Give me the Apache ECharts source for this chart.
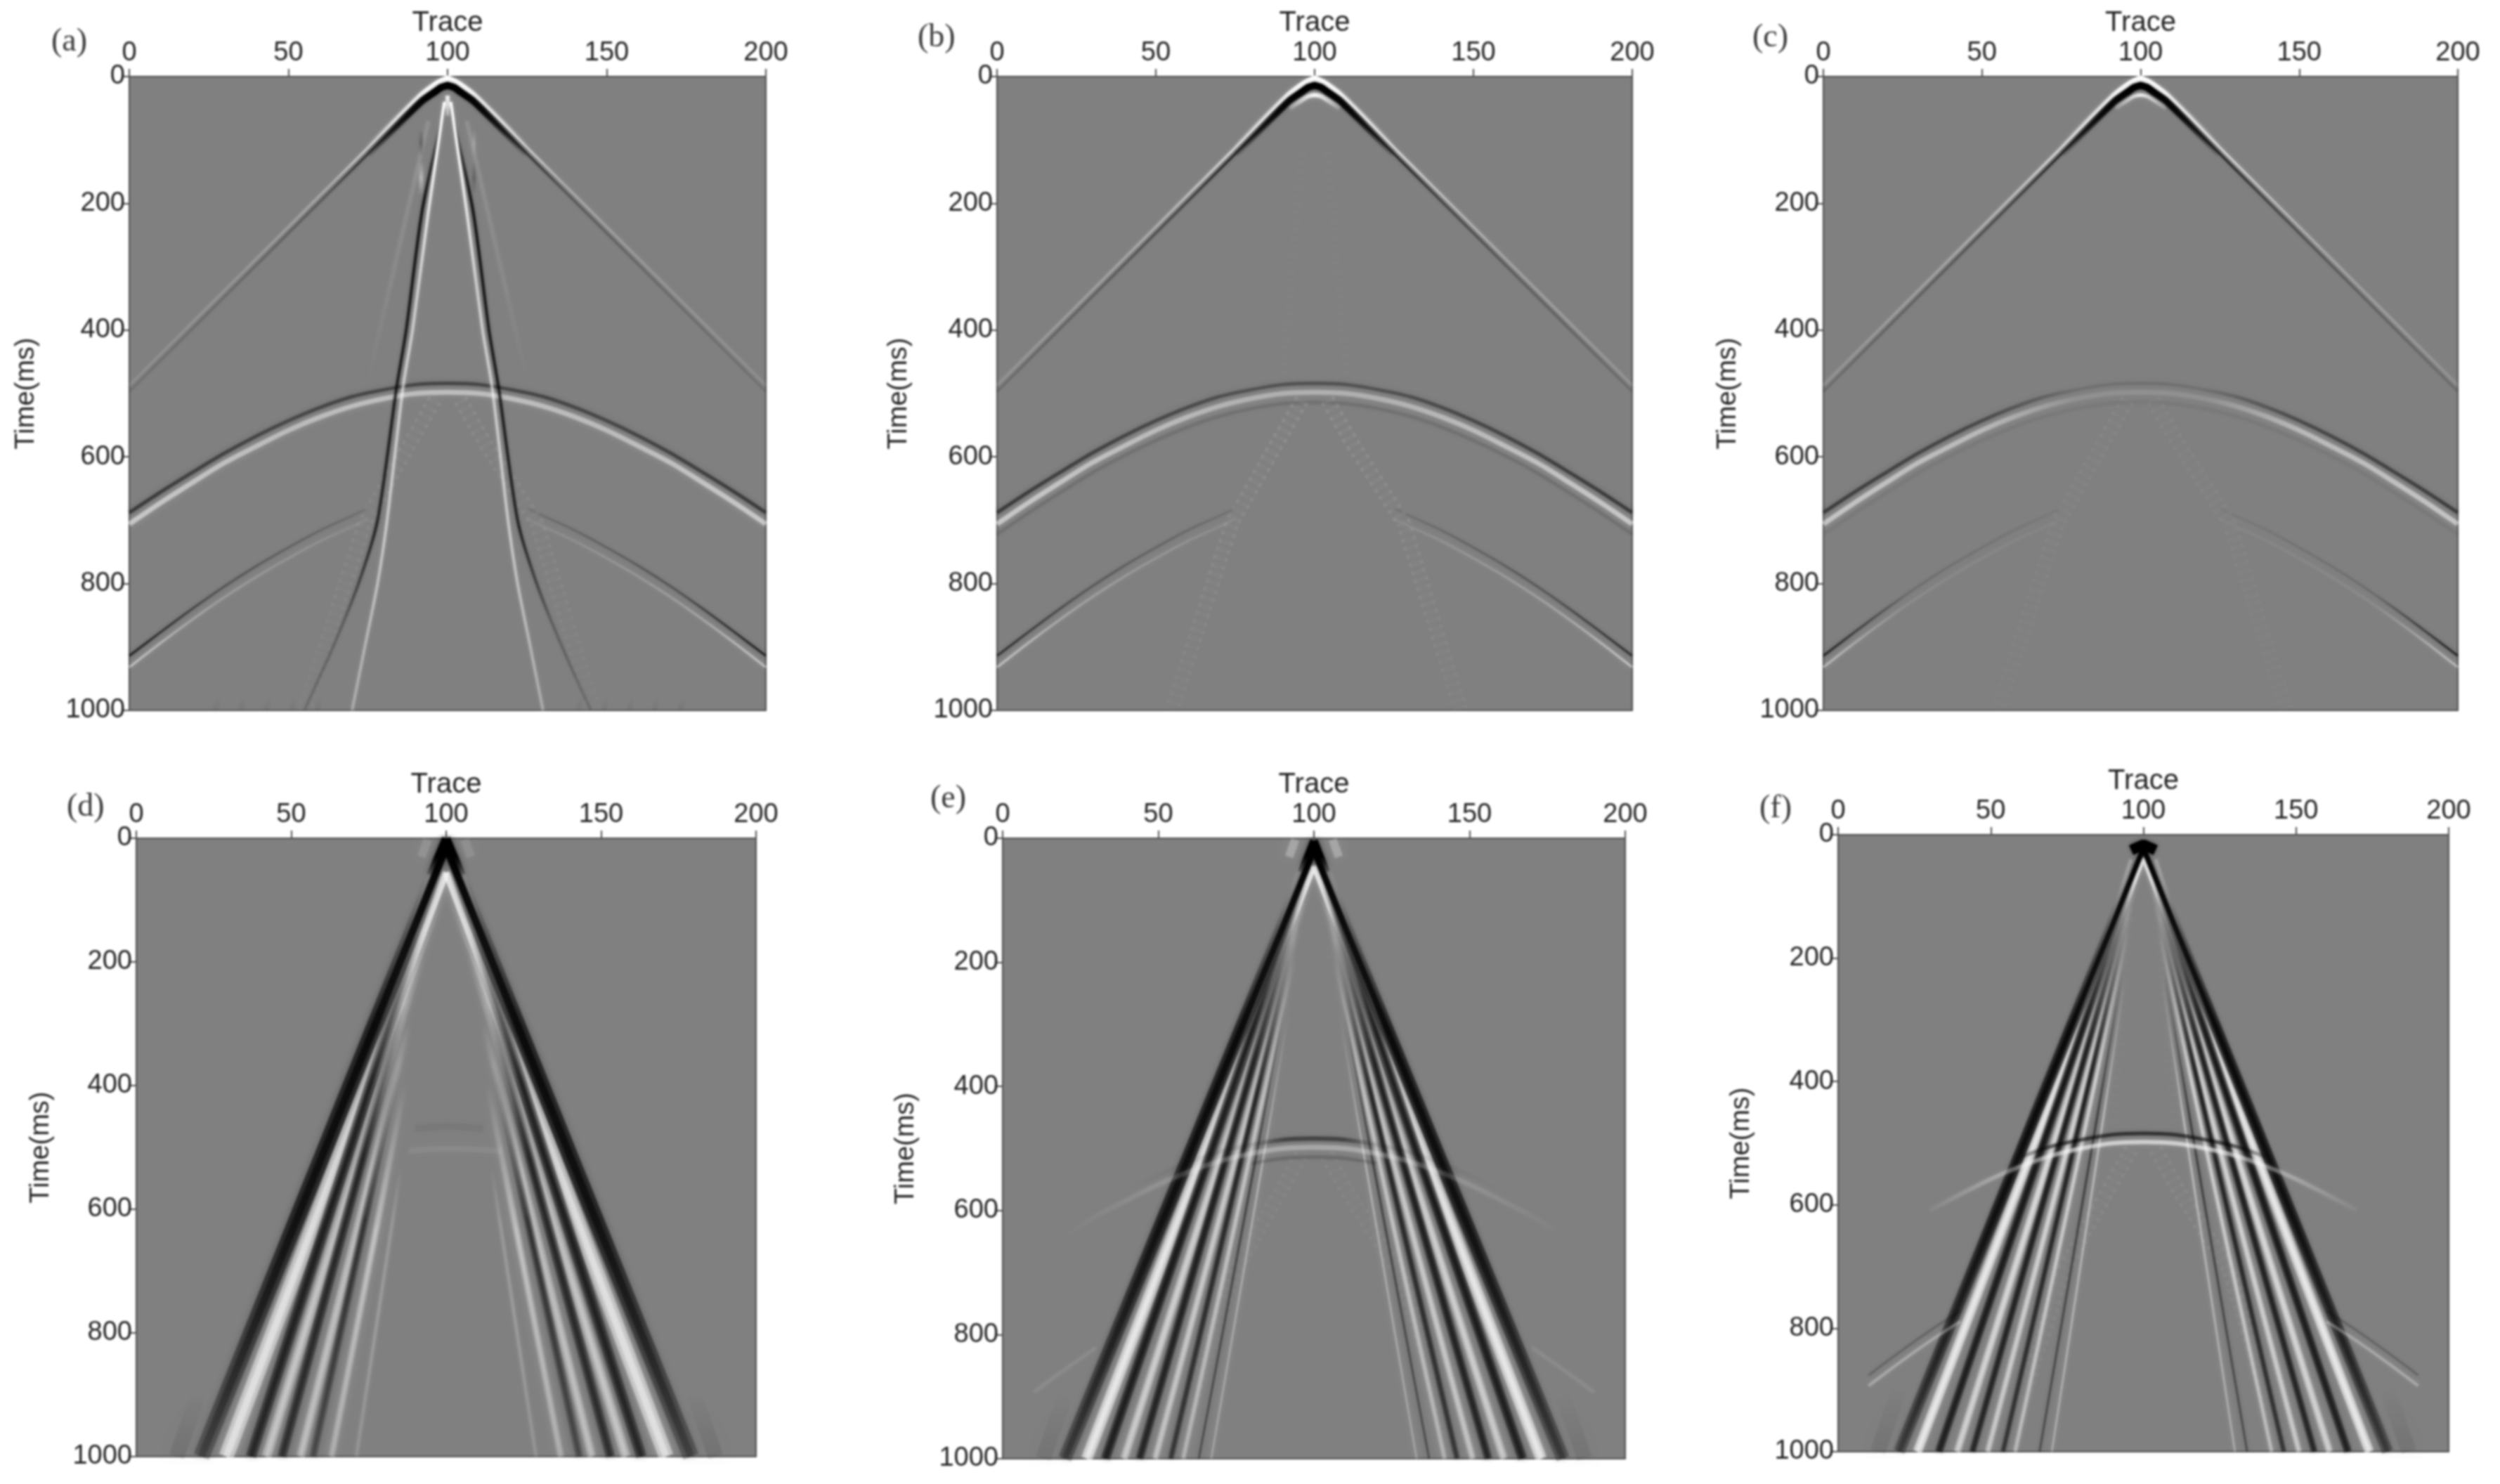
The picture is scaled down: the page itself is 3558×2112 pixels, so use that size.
<!DOCTYPE html>
<html lang="en" style="height: 100%">
<head>
  <meta charset="UTF-8">
  <title>Shot gathers (a)-(f)</title>
  <script src="https://cdn.jsdelivr.net/npm/echarts@6/dist/echarts.min.js"></script>
  <style>
    /* the source figure is a soft scan, so the whole canvas gets a light blur */
    #container canvas { filter: blur(1.7px); }
  </style>
</head>
<body style="height: 100%; margin: 0; background: #fff">
<div id="container" style="height: 100%"></div>
<script type="text/javascript">
  // tick labels and panel names
  var panelNames = ['(a)', '(b)', '(c)', '(d)', '(e)', '(f)'];
  var traceTicks = [0, 50, 100, 150, 200];
  var timeTicks = [0, 200, 400, 600, 800, 1000];

  // direct wave, traces and arrival times (ms)
  var directTraces = [0, 20, 40, 60, 75, 85, 92, 96, 98, 100, 102, 104, 108, 115, 125, 140, 160, 180, 200];
  var directCore = [497, 397, 297, 197, 122, 72, 38, 24, 17, 14, 17, 24, 38, 72, 122, 197, 297, 397, 497];
  var directOuter = [487, 387, 287, 187, 112, 62, 28, 13, 7, 3, 7, 13, 28, 62, 112, 187, 287, 387, 487];
  var directInner = [508, 408, 308, 208, 133, 83, 50, 37, 31, 29, 31, 37, 50, 83, 133, 208, 308, 408, 508];

  // first reflection
  var reflectTraces = [0, 10, 20, 30, 40, 50, 60, 70, 80, 90, 100, 110, 120, 130, 140, 150, 160, 170, 180, 190, 200];
  var reflectLight = [706, 672, 640, 609, 583, 558, 537, 520, 508, 500, 498, 500, 508, 520, 537, 558, 583, 609, 640, 672, 706];
  var reflectDark = [688, 655, 624, 594, 567, 543, 522, 505, 494, 486, 484, 486, 494, 505, 522, 543, 567, 594, 624, 655, 688];
  var reflectUnder = [722, 688, 656, 625, 598, 574, 553, 536, 524, 516, 514, 516, 524, 536, 553, 574, 598, 625, 656, 688, 722];

  // second reflection, left and right limbs
  var deepTracesL = [0, 10, 20, 30, 40, 50, 60, 70, 75];
  var deepLightL = [932, 893, 856, 821, 789, 760, 733, 710, 698];
  var deepDarkL = [914, 876, 839, 804, 772, 743, 716, 693, 681];
  var deepTracesR = [125, 130, 140, 150, 160, 170, 180, 190, 200];
  var deepLightR = [698, 710, 733, 760, 789, 821, 856, 893, 932];
  var deepDarkR = [681, 693, 716, 743, 772, 804, 839, 876, 914];

  // ground roll in panel (a), [trace, time]
  var rollDarkL = [[99, 50], [92, 212], [87, 400], [84, 490], [78, 700], [72, 800], [64, 900], [55, 1000]];
  var rollLightL = [[99, 40], [94, 212], [89, 400], [86, 490], [81, 700], [78, 800], [74, 900], [70, 1000]];
  var rollDarkR = [[101, 50], [108, 212], [113, 400], [116, 490], [122, 700], [128, 800], [136, 900], [145, 1000]];
  var rollLightR = [[101, 40], [106, 212], [111, 400], [114, 490], [119, 700], [122, 800], [126, 900], [130, 1000]];
  var edgeRippleTraces = [28, 36, 44, 52, 60, 142, 150, 158, 166, 174];

  // faint leftovers inside the cone
  var fishL = [[96, 510], [88, 580], [74, 704], [55, 1000]];
  var fishR = [[104, 510], [112, 580], [128, 704], [146, 1000]];
  var fishUpperL = [[96, 120], [93, 300], [90, 470]];
  var fishUpperR = [[104, 120], [107, 300], [110, 470]];
  var fanFaintL = [[94, 70], [75, 480]];
  var fanFaintR = [[106, 70], [125, 480]];
  var fringeL = [[96, 40], [74, 380]];
  var fringeR = [[104, 40], [126, 380]];
  var fringeLowL = [[64, 420], [48, 660]];
  var fringeLowR = [[136, 420], [152, 660]];
  var haloL = [[20, 900], [13, 1000]];
  var haloR = [[180, 900], [187, 1000]];

  // surface wave stripes in (d), (e), (f): trace where each stripe meets t = 1000
  var dDarkL = [21, 37, 47, 57];
  var dLightL = [29, 42, 53, 63];
  var dThinL = [71];
  var dDarkR = [179, 163, 153, 143];
  var dLightR = [171, 158, 147, 137];
  var dThinR = [129];
  var eDarkL = [20, 33, 44, 54, 63];
  var eLightL = [27, 39, 49, 58, 67];
  var eDarkR = [180, 167, 156, 146, 137];
  var eLightR = [173, 161, 151, 142, 133];
  var fDarkL = [20, 33, 44, 54, 66];
  var fLightL = [26, 39, 49, 58, 70];
  var fDarkR = [180, 167, 156, 146, 134];
  var fLightR = [174, 161, 151, 142, 130];

  // small reflection remains at the centre of (d)
  var dCentreDark = [[90, 470], [100, 466], [112, 470]];
  var dCentreLight = [[88, 506], [100, 502], [118, 506]];

  // source blobs, [trace, time]
  var apexLegsDL = [[100, 0], [95, 60]];
  var apexLegsDR = [[100, 0], [105, 60]];
  var apexLegsEL = [[100, 4], [96, 55]];
  var apexLegsER = [[100, 4], [104, 55]];
  var apexF = [[96, 25], [100, 16], [104, 25]];
  var apexBlobL = [[94, 2], [92, 30]];
  var apexBlobR = [[106, 2], [108, 30]];
  var belowApex = [[100, 30], [100, 62]];

  // layout in page pixels
  var panelLeft = [184, 1419, 2595, 194, 1427, 2616];
  var panelRight = [1090, 2323, 3498, 1076, 2313, 3485];
  var panelTop = [109, 109, 109, 1193, 1193, 1188];
  var panelBottom = [1011, 1011, 1011, 2073, 2076, 2066];
  var nameGapY = [127, 120, 116, 116, 118, 118];
  var letterLeft = [68, 1301, 2489, 90, 1319, 2499];
  var letterTop = [32, 26, 26, 1121, 1109, 1123];

  var series = [];

  function zip(traces, times, from, to) {
    var out = [];
    for (var i = 0; i < traces.length; i++) {
      if (traces[i] >= from && traces[i] <= to) out.push([traces[i], times[i]]);
    }
    return out;
  }

  // one stroke; stops are [position, opacity] along the x or y extent of the line
  function stroke(p, pts, tone, width, stops, o) {
    o = o || {};
    var rgb = tone === 'k' ? '0,0,0' : '255,255,255';
    var across = o.across === 'x';
    series.push({
      type: 'line',
      xAxisIndex: p,
      yAxisIndex: p,
      data: pts,
      symbol: 'none',
      silent: true,
      animation: false,
      smooth: o.smooth || false,
      lineStyle: {
        width: width,
        type: o.dash || 'solid',
        cap: 'butt',
        color: new echarts.graphic.LinearGradient(0, 0, across ? 1 : 0, across ? 0 : 1,
          stops.map(function (s) { return { offset: s[0], color: 'rgba(' + rgb + ',' + s[1] + ')' }; })),
        shadowBlur: o.blur === undefined ? 6 : o.blur,
        shadowColor: 'rgba(' + rgb + ',0.45)'
      }
    });
  }

  function flat(a) { return [[0, a], [1, a]]; }
  function scale(st, k) { return st.map(function (s) { return [s[0], s[1] * k]; }); }

  // straight stripes out of the apex, widening with depth
  function fan(p, bottoms, tone, apexT, widths, alphas, fades, ends, blur) {
    bottoms.forEach(function (b, i) {
      var pts = [[100, apexT], [b, 1000]];
      var f = fades[i], a = alphas[i], e = ends[i];
      stroke(p, pts, tone, widths[i] * 0.45, [[0, f > 0 ? 0 : a], [f, f > 0 ? 0 : a], [Math.min(f + 0.25, 1), a * 0.7], [0.6, a * 0.5], [1, a * e * 0.5]], { blur: blur });
      stroke(p, pts, tone, widths[i], [[0, 0], [Math.max(f, 0.06), 0], [Math.max(f + 0.25, 0.3), a * 0.6], [0.6, a * 0.6], [1, a * e * 0.6]], { blur: blur });
    });
  }

  var faintEnds = [[0, 0.1], [0.2, 0.18], [0.32, 0.32], [0.4, 0.7], [0.46, 1], [0.54, 1], [0.6, 0.7], [0.68, 0.32], [0.8, 0.18], [1, 0.1]];
  var strongEnds = [[0, 0.14], [0.2, 0.28], [0.32, 0.5], [0.4, 0.8], [0.46, 1], [0.54, 1], [0.6, 0.8], [0.68, 0.5], [0.8, 0.28], [1, 0.14]];
  var crossX = { across: 'x', smooth: 0.3 };

  function directWave(p, ends) {
    var o = { across: 'x', smooth: 0.15, blur: 5 };
    stroke(p, zip(directTraces, directOuter, 0, 200), 'w', 3, ends, o);
    stroke(p, zip(directTraces, directCore, 0, 200), 'k', 3, ends, o);
    stroke(p, zip(directTraces, directOuter, 75, 125), 'w', 8, [[0, 0], [0.3, 0.7], [0.42, 1], [0.58, 1], [0.7, 0.7], [1, 0]], o);
    stroke(p, zip(directTraces, directCore, 75, 125), 'k', 10, [[0, 0], [0.28, 0.8], [0.42, 1], [0.58, 1], [0.72, 0.8], [1, 0]], o);
  }

  function firstReflection(p, ends, mid, extra) {
    var s = [[0, ends], [0.25, ends * 0.8], [0.4, mid], [0.6, mid], [0.75, ends * 0.8], [1, ends]];
    var o = { across: 'x', smooth: 0.3, blur: 8 };
    stroke(p, zip(reflectTraces, reflectDark, 0, 200), 'k', 5, s, o);
    stroke(p, zip(reflectTraces, reflectLight, 0, 200), 'w', 7, s, o);
    if (extra) stroke(p, zip(reflectTraces, reflectUnder, 0, 200), 'k', 5, flat(extra), o);
  }

  function deepReflection(p, aDark, aLight, mid) {
    var l = [[0, 1], [0.35, mid], [1, mid * 0.3]], r = [[0, mid * 0.3], [0.65, mid], [1, 1]];
    stroke(p, zip(deepTracesL, deepDarkL, 0, 200), 'k', 3, scale(l, aDark), crossX);
    stroke(p, zip(deepTracesL, deepLightL, 0, 200), 'w', 3, scale(l, aLight), crossX);
    stroke(p, zip(deepTracesR, deepDarkR, 0, 200), 'k', 3, scale(r, aDark), crossX);
    stroke(p, zip(deepTracesR, deepLightR, 0, 200), 'w', 3, scale(r, aLight), crossX);
  }

  function fishbone(p, a) {
    var ripple = { dash: [5, 7], blur: 3 };
    [fishL, fishR].forEach(function (pts) {
      stroke(p, pts, 'w', 20, [[0, a * 1.4], [0.5, a], [1, a * 0.4]], ripple);
      stroke(p, pts, 'k', 14, [[0, a], [0.5, a * 0.7], [1, a * 0.3]], ripple);
    });
    [fishUpperL, fishUpperR].forEach(function (pts) {
      stroke(p, pts, 'w', 9, flat(a * 0.6), ripple);
      stroke(p, pts, 'k', 8, flat(a * 0.5), ripple);
    });
  }

  function coneEdges(p, width, aHalo, fringeStops, fringeWidth, blur) {
    [haloL, haloR].forEach(function (pts) { stroke(p, pts, 'k', 22, [[0, 0], [1, aHalo]], { blur: 30 }); });
    [fringeL, fringeR].forEach(function (pts) { stroke(p, pts, 'w', fringeWidth, fringeStops, { blur: blur }); });
    [fringeLowL, fringeLowR].forEach(function (pts) { stroke(p, pts, 'w', width, [[0, 0], [0.5, 0.05], [1, 0]], { blur: blur }); });
  }

  // (a)
  directWave(0, faintEnds);
  firstReflection(0, 0.5, 0.42);
  deepReflection(0, 0.75, 0.5, 0.45);
  fishbone(0, 0.06);
  [fanFaintL, fanFaintR].forEach(function (pts) { stroke(0, pts, 'w', 6, [[0, 0.1], [0.6, 0.06], [1, 0]]); });
  edgeRippleTraces.forEach(function (x) {
    stroke(0, [[x, 980], [x - 1, 1000]], 'k', 7, [[0, 0], [1, 0.06]], { blur: 10 });
  });
  [rollDarkL, rollDarkR].forEach(function (pts) {
    stroke(0, pts, 'k', 4, [[0, 0.3], [0.15, 0.8], [0.7, 0.65], [0.85, 0.22], [1, 0.12]], { blur: 5, smooth: 0.25 });
  });
  [rollLightL, rollLightR].forEach(function (pts) {
    stroke(0, pts, 'w', 4, [[0, 1], [0.3, 0.55], [0.7, 0.5], [1, 0.28]], { blur: 5, smooth: 0.25 });
  });
  stroke(0, [[91.7, 85], [91.7, 125]], 'k', 5, [[0, 0], [0.5, 0.22], [1, 0]], { blur: 10 });
  stroke(0, [[91.7, 135], [91.7, 185]], 'w', 6, [[0, 0], [0.5, 0.35], [1, 0]], { blur: 10 });
  stroke(0, [[108.3, 85], [108.3, 125]], 'w', 5, [[0, 0], [0.5, 0.18], [1, 0]], { blur: 10 });
  stroke(0, [[108.3, 135], [108.3, 185]], 'k', 5, [[0, 0], [0.5, 0.18], [1, 0]], { blur: 10 });
  stroke(0, belowApex, 'w', 6, [[0, 0.9], [1, 0.2]]);

  // (b)
  directWave(1, strongEnds);
  stroke(1, zip(directTraces, directInner, 90, 110), 'w', 6, [[0, 0.1], [0.5, 0.9], [1, 0.1]], crossX);
  firstReflection(1, 0.5, 0.32, 0.1);
  deepReflection(1, 0.62, 0.5, 0.5);
  fishbone(1, 0.08);

  // (c)
  directWave(2, strongEnds);
  stroke(2, zip(directTraces, directInner, 92, 108), 'w', 5, [[0, 0.1], [0.5, 0.8], [1, 0.1]], crossX);
  firstReflection(2, 0.48, 0.1, 0.05);
  deepReflection(2, 0.72, 0.45, 0.2);
  fishbone(2, 0.035);

  // (d)
  stroke(3, dCentreDark, 'k', 10, flat(0.05), { smooth: 0.4, blur: 14 });
  stroke(3, dCentreLight, 'w', 8, flat(0.06), { smooth: 0.4, blur: 12 });
  coneEdges(3, 8, 0.1, [[0, 0.06], [0.2, 0.14], [1, 0.02]], 9, 8);
  var dFades = [0, 0.14, 0.26, 0.36];
  var dDarkW = [23, 15, 13, 11], dLightW = [21, 14, 12, 10];
  var dDarkA = [1, 0.8, 0.72, 0.55], dLightA = [0.75, 0.55, 0.5, 0.42];
  var dEnds = [0.4, 0.85, 0.85, 0.7];
  var lightEnds = [1, 0.85, 0.85, 0.75, 0.75];
  fan(3, dLightL, 'w', 55, dLightW, dLightA, dFades, lightEnds, 12);
  fan(3, dLightR, 'w', 55, dLightW, dLightA, dFades, lightEnds, 12);
  fan(3, dThinL, 'w', 55, [6], [0.16], [0.5], [0.8], 6);
  fan(3, dThinR, 'w', 55, [6], [0.16], [0.5], [0.8], 6);
  fan(3, dDarkL, 'k', 15, dDarkW, dDarkA, dFades, dEnds, 12);
  fan(3, dDarkR, 'k', 15, dDarkW, dDarkA, dFades, dEnds, 12);
  stroke(3, apexLegsDL, 'k', 12, [[0, 1], [0.5, 1], [1, 0]], { blur: 10 });
  stroke(3, apexLegsDR, 'k', 12, [[0, 1], [0.5, 1], [1, 0]], { blur: 10 });
  stroke(3, apexBlobL, 'w', 12, flat(0.12), { blur: 18 });
  stroke(3, apexBlobR, 'w', 12, flat(0.1), { blur: 18 });

  // (e)
  fishbone(4, 0.035);
  coneEdges(4, 6, 0.09, [[0, 0.06], [0.2, 0.14], [1, 0.02]], 7, 6);
  var eFades = [0, 0.05, 0.1, 0.15, 0.25];
  var eDarkW = [19, 13, 11, 8, 3], eLightW = [16, 11, 9, 7, 3];
  var eDarkA = [1, 0.85, 0.8, 0.72, 0.6], eLightA = [0.85, 0.62, 0.56, 0.5, 0.42];
  var eEnds = [0.45, 0.9, 0.9, 0.8, 0.8];
  fan(4, eLightL, 'w', 45, eLightW, eLightA, eFades, lightEnds, 8);
  fan(4, eLightR, 'w', 45, eLightW, eLightA, eFades, lightEnds, 8);
  fan(4, eDarkL, 'k', 20, eDarkW, eDarkA, eFades, eEnds, 8);
  fan(4, eDarkR, 'k', 20, eDarkW, eDarkA, eFades, eEnds, 8);
  stroke(4, zip(reflectTraces, reflectDark, 40, 160), 'k', 6, [[0, 0], [0.35, 0.1], [0.42, 0.4], [0.58, 0.4], [0.65, 0.1], [1, 0]], crossX);
  stroke(4, zip(reflectTraces, reflectLight, 20, 180), 'w', 7, [[0, 0], [0.15, 0.08], [0.4, 0.25], [0.6, 0.25], [0.85, 0.08], [1, 0]], crossX);
  stroke(4, zip(reflectTraces, reflectUnder, 80, 120), 'k', 5, flat(0.14), crossX);
  stroke(4, zip(deepTracesL, deepLightL, 10, 30), 'w', 5, flat(0.07), crossX);
  stroke(4, zip(deepTracesR, deepLightR, 170, 190), 'w', 5, flat(0.07), crossX);
  stroke(4, apexLegsEL, 'k', 11, [[0, 1], [0.5, 1], [1, 0]], { blur: 8 });
  stroke(4, apexLegsER, 'k', 11, [[0, 1], [0.5, 1], [1, 0]], { blur: 8 });
  stroke(4, apexBlobL, 'w', 12, flat(0.26), { blur: 16 });
  stroke(4, apexBlobR, 'w', 12, flat(0.26), { blur: 16 });

  // (f)
  fishbone(5, 0.05);
  coneEdges(5, 5, 0.09, [[0, 0.22], [0.5, 0.1], [1, 0.02]], 5, 5);
  var fFades = [0, 0.04, 0.08, 0.12, 0.2];
  var fDarkW = [16, 11, 9, 7, 3], fLightW = [13, 10, 8, 6, 3];
  var fDarkA = [1, 0.85, 0.8, 0.75, 0.6], fLightA = [0.85, 0.68, 0.62, 0.58, 0.5];
  fan(5, fLightL, 'w', 38, fLightW, fLightA, fFades, lightEnds, 6);
  fan(5, fLightR, 'w', 38, fLightW, fLightA, fFades, lightEnds, 6);
  fan(5, fDarkL, 'k', 22, fDarkW, fDarkA, fFades, eEnds, 6);
  fan(5, fDarkR, 'k', 22, fDarkW, fDarkA, fFades, eEnds, 6);
  stroke(5, zip(reflectTraces, reflectDark, 55, 145), 'k', 5, [[0, 0.2], [0.15, 0.55], [0.85, 0.55], [1, 0.2]], crossX);
  stroke(5, zip(reflectTraces, reflectLight, 30, 170), 'w', 6, [[0, 0.03], [0.2, 0.3], [0.35, 0.55], [0.65, 0.55], [0.8, 0.3], [1, 0.03]], crossX);
  stroke(5, zip(deepTracesL, deepDarkL, 10, 40), 'k', 3, flat(0.2), crossX);
  stroke(5, zip(deepTracesL, deepLightL, 10, 40), 'w', 4, flat(0.28), crossX);
  stroke(5, zip(deepTracesR, deepDarkR, 160, 190), 'k', 3, flat(0.2), crossX);
  stroke(5, zip(deepTracesR, deepLightR, 160, 190), 'w', 4, flat(0.28), crossX);
  stroke(5, apexF, 'k', 15, flat(1), { blur: 6 });

  var labelColor = '#222222';
  var labelFont = '"Liberation Sans", Arial, sans-serif';
  var grids = [], xAxes = [], yAxes = [], titles = [];

  panelNames.forEach(function (name, i) {
    grids.push({
      left: panelLeft[i],
      top: panelTop[i],
      width: panelRight[i] - panelLeft[i],
      height: panelBottom[i] - panelTop[i],
      show: true,
      backgroundColor: '#808080',
      borderColor: '#4a4a4a',
      borderWidth: 2
    });
    xAxes.push({
      gridIndex: i,
      type: 'value',
      position: 'top',
      min: traceTicks[0],
      max: traceTicks[traceTicks.length - 1],
      interval: traceTicks[1] - traceTicks[0],
      name: 'Trace',
      nameLocation: 'middle',
      nameGap: 56,
      nameTextStyle: { fontFamily: labelFont, fontSize: 40, color: labelColor },
      axisLine: { onZero: false, lineStyle: { color: '#4a4a4a', width: 2 } },
      axisTick: { length: 11, lineStyle: { color: '#4a4a4a', width: 2 } },
      axisLabel: { fontFamily: labelFont, fontSize: 38, color: labelColor, margin: 14, showMinLabel: true, showMaxLabel: true },
      splitLine: { show: false }
    });
    yAxes.push({
      gridIndex: i,
      type: 'value',
      inverse: true,
      min: timeTicks[0],
      max: timeTicks[timeTicks.length - 1],
      interval: timeTicks[1] - timeTicks[0],
      name: 'Time(ms)',
      nameLocation: 'middle',
      nameRotate: 90,
      nameGap: nameGapY[i],
      nameTextStyle: { fontFamily: labelFont, fontSize: 38, color: labelColor },
      axisLine: { onZero: false, lineStyle: { color: '#4a4a4a', width: 2 } },
      axisTick: { length: 11, lineStyle: { color: '#4a4a4a', width: 2 } },
      axisLabel: {
        fontFamily: labelFont, fontSize: 38, color: labelColor, margin: 6, showMinLabel: true, showMaxLabel: true,
        formatter: function (v) { return String(v); }
      },
      splitLine: { show: false }
    });
    titles.push({
      text: name,
      left: letterLeft[i],
      top: letterTop[i],
      textStyle: { fontFamily: '"Liberation Serif", serif', fontSize: 46, fontWeight: 'normal', color: '#3a3a3a' }
    });
  });

  var myChart = echarts.init(document.getElementById('container'), null, { renderer: 'canvas' });
  myChart.setOption({
    animation: false,
    backgroundColor: '#ffffff',
    title: titles,
    grid: grids,
    xAxis: xAxes,
    yAxis: yAxes,
    series: series
  });
  window.addEventListener('resize', myChart.resize);
</script>
</body>
</html>
